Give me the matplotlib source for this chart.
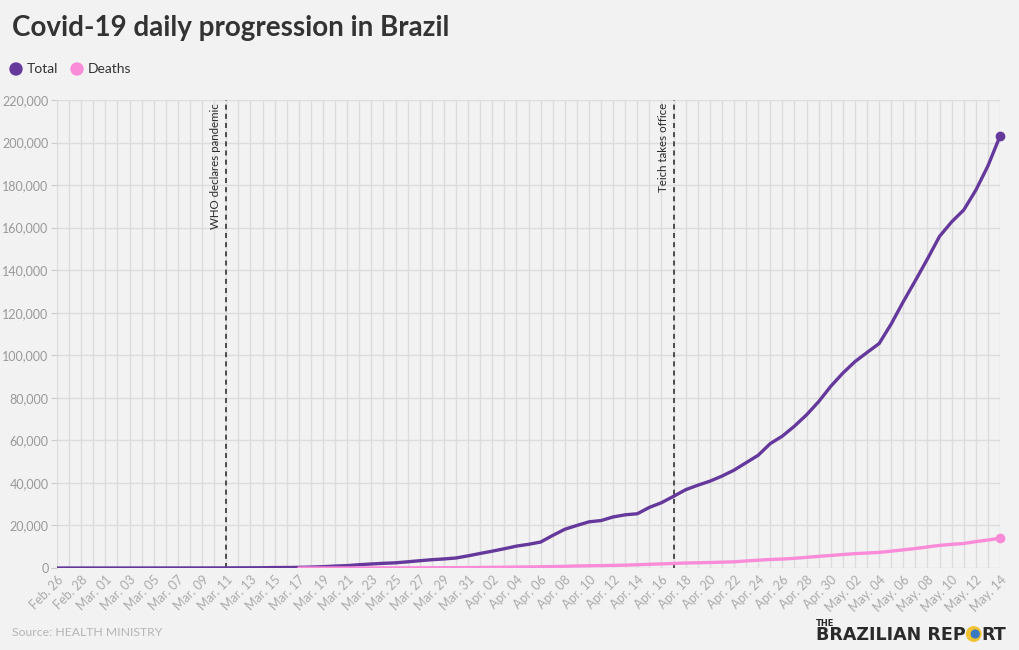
import matplotlib
matplotlib.use("Agg")
import matplotlib.pyplot as plt
import numpy as np
import pandas as pd

# ---------------- data ----------------
start_date = "2020-02-26"
end_date = "2020-05-14"
deaths_start = "2020-03-17"

total = [1, 1, 1, 2,
         2, 2, 2, 3, 8, 13, 19, 25, 25, 34, 52, 77, 98, 121, 200, 234, 291, 428, 621, 904,
         1128, 1546, 1891, 2201, 2433, 2915, 3417, 3904, 4256, 4700, 5717,
         6836, 7910, 9056, 10278, 11130, 12200, 15300, 18200, 20000, 21700, 22300, 24000,
         25000, 25500, 28500, 30700, 33700, 36800, 38900, 40800, 43200, 46000, 49500,
         53000, 58500, 62000, 66700, 72000, 78200, 85400,
         91600, 97000, 101300, 105500, 114700, 125200, 135100, 145300, 155900, 162700,
         168300, 177600, 189000, 203000]

deaths = [1, 4, 7, 11, 18, 25, 34, 46, 59, 77, 92, 111, 136, 159, 201,
          240, 324, 359, 445, 486, 553, 667, 800, 941, 1056, 1124, 1223, 1328, 1532,
          1736, 1924, 2141, 2347, 2462, 2575, 2741, 2906, 3313, 3670, 4016, 4205, 4543,
          5017, 5466, 5901,
          6329, 6750, 7025, 7321, 7921, 8536, 9146, 9897, 10627, 11123, 11519, 12400,
          13149, 14000]

events = ["2020-03-11", "2020-04-17"]
event_labels = ["WHO declares pandemic", "Teich takes office"]

series_names = ["Total", "Deaths"]
colors = ["#65389c", "#f98bd9"]
yticks = list(range(0, 220001, 20000))

# ---------------- figure ----------------
BG = "#f2f2f2"
FONT = ["Lato", "DejaVu Sans"]
plt.rcParams["font.family"] = FONT

fig = plt.figure(figsize=(10.2, 6.5), dpi=100, facecolor=BG)
ax = fig.add_axes([57 / 1020, 1 - 568 / 650, (1000 - 57) / 1020, (568 - 100) / 650])
ax.set_facecolor(BG)

dates = pd.date_range(start_date, end_date, freq="D")
ddates = pd.date_range(deaths_start, end_date, freq="D")

ax.plot(dates, total, color=colors[0], lw=2.4, solid_capstyle="round", zorder=3)
ax.plot(ddates, deaths, color=colors[1], lw=2.4, solid_capstyle="round", zorder=4)
ax.plot(dates[-1:], total[-1:], "o", color=colors[0], ms=6, zorder=5, clip_on=False)
ax.plot(ddates[-1:], deaths[-1:], "o", color=colors[1], ms=6, zorder=5, clip_on=False)

for d, lab in zip(events, event_labels):
    dt = pd.Timestamp(d)
    ax.axvline(dt, color="#333333", lw=1.2, ls=(0, (3, 2.5)), zorder=2)
    ax.text(dt - pd.Timedelta(hours=10), 218500, lab, rotation=90, ha="right", va="top",
            fontsize=8.3, color="#2b2b2b", zorder=6)

ax.set_xlim(dates[0], dates[-1])
ax.set_ylim(0, 220000)
ax.set_yticks(yticks)
ax.set_yticklabels([f"{v:,}" for v in yticks])

ax.set_xticks(dates[::2])
ax.set_xticklabels([d.strftime("%b. %d") for d in dates[::2]], rotation=45,
                   ha="right", va="top", rotation_mode="anchor")
ax.set_xticks(dates, minor=True)

ax.grid(True, which="both", axis="x", color="#dcdcdc", lw=1)
ax.grid(True, which="major", axis="y", color="#dcdcdc", lw=1)
ax.set_axisbelow(True)
for s in ax.spines.values():
    s.set_visible(False)
ax.tick_params(axis="y", length=4, color="#cccccc", labelsize=9, labelcolor="#999999", pad=2)
ax.tick_params(axis="x", which="both", length=0, labelsize=9, labelcolor="#aaaaaa", pad=4)

# title, legend, source
fig.text(12 / 1020, 1 - 28 / 650, "Covid-19 daily progression in Brazil", fontsize=20,
         fontweight="bold", color="#333333", va="center", ha="left")

lx = [16, 77]
for x, name, c in zip(lx, series_names, colors):
    fig.patches.append(matplotlib.patches.Ellipse((x / 1020, 1 - 69 / 650), 12 / 1020, 12 / 650,
                                                  transform=fig.transFigure, color=c))
    fig.text((x + 11) / 1020, 1 - 69 / 650, name, fontsize=10, color="#333333",
             va="center", ha="left")

fig.text(12 / 1020, 1 - 632 / 650, "Source: HEALTH MINISTRY", fontsize=8.8, color="#b5b5b5",
         va="center", ha="left")

# logo
LOGO_FONT = ["DejaVu Sans"]
fig.text(816 / 1020, 1 - 626 / 650, "THE", fontsize=6, fontweight="bold", color="#2a2a2a",
         va="baseline", ha="left", family=LOGO_FONT)
fig.canvas.draw()
r = fig.canvas.get_renderer()
t1 = fig.text(816 / 1020, 1 - 640 / 650, "BRAZILIAN REP", fontsize=12.6, fontweight="bold",
              color="#2a2a2a", va="baseline", ha="left", family=LOGO_FONT)
bb = t1.get_window_extent(r)
ox = bb.x1 + 8
oy = 650 - 634
fig.patches.append(matplotlib.patches.Circle((ox, oy), 7.2, transform=None, color="#f2c230"))
fig.patches.append(matplotlib.patches.Circle((ox + 1.5, oy), 3.9, transform=None, color="#3a78c2"))
fig.text((ox + 8) / 1020, 1 - 640 / 650, "RT", fontsize=12.6, fontweight="bold",
         color="#2a2a2a", va="baseline", ha="left", family=LOGO_FONT)

fig.savefig("out.png", dpi=100, facecolor=BG)
